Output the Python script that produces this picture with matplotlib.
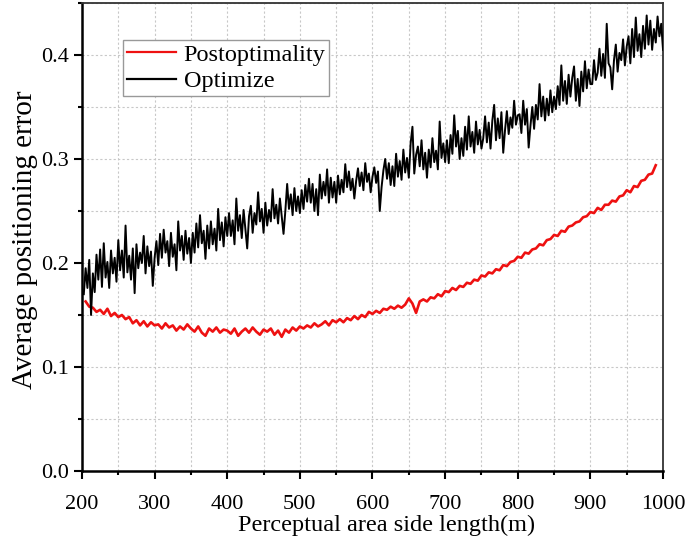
import numpy as np
import matplotlib
matplotlib.use("Agg")
from matplotlib import pyplot as plt
from matplotlib.ticker import MultipleLocator

plt.rcParams['font.family'] = ['Liberation Serif', 'DejaVu Serif']

# side length of the perceptual area (m)
x_opt = np.arange(202.5, 1000.1, 2.5)
x_post = np.arange(205, 991, 5)

# Optimize (black), one row per 50 m
optimize = [
    0.170, 0.195, 0.176, 0.203, 0.150, 0.190, 0.172, 0.208, 0.184, 0.213,
    0.177, 0.219, 0.186, 0.201, 0.176, 0.212, 0.190, 0.205, 0.182, 0.222,
    0.193, 0.212, 0.186, 0.236, 0.191, 0.207, 0.184, 0.214, 0.171, 0.218,
    0.195, 0.210, 0.200, 0.226, 0.190, 0.216, 0.197, 0.211, 0.178, 0.205,
    0.221, 0.198, 0.228, 0.205, 0.232, 0.210, 0.221, 0.197, 0.229, 0.206,
    0.218, 0.193, 0.240, 0.212, 0.226, 0.203, 0.231, 0.209, 0.224, 0.200,
    0.229, 0.210, 0.238, 0.215, 0.246, 0.219, 0.231, 0.204, 0.236, 0.214,
    0.240, 0.218, 0.233, 0.212, 0.252, 0.222, 0.239, 0.216, 0.244, 0.226,
    0.248, 0.226, 0.241, 0.218, 0.262, 0.231, 0.246, 0.224, 0.251, 0.232,
    0.214, 0.245, 0.255, 0.229, 0.248, 0.237, 0.268, 0.240, 0.252, 0.229,
    0.258, 0.236, 0.251, 0.240, 0.271, 0.243, 0.256, 0.238, 0.262, 0.245,
    0.228, 0.250, 0.276, 0.252, 0.266, 0.246, 0.272, 0.250, 0.264, 0.248,
    0.270, 0.252, 0.275, 0.259, 0.281, 0.258, 0.276, 0.250, 0.271, 0.246,
    0.285, 0.262, 0.278, 0.265, 0.290, 0.258, 0.282, 0.263, 0.278, 0.258,
    0.284, 0.266, 0.280, 0.268, 0.295, 0.273, 0.288, 0.270, 0.281, 0.262,
    0.279, 0.291, 0.274, 0.287, 0.270, 0.296, 0.278, 0.286, 0.268, 0.283,
    0.292, 0.277, 0.288, 0.250, 0.273, 0.289, 0.300, 0.281, 0.296, 0.275,
    0.293, 0.274, 0.305, 0.283, 0.298, 0.280, 0.309, 0.287, 0.301, 0.282,
    0.315, 0.331, 0.286, 0.304, 0.312, 0.293, 0.318, 0.290, 0.306, 0.282,
    0.309, 0.292, 0.320, 0.297, 0.308, 0.290, 0.336, 0.301, 0.315, 0.297,
    0.318, 0.296, 0.323, 0.305, 0.342, 0.312, 0.327, 0.300, 0.320, 0.303,
    0.331, 0.309, 0.341, 0.312, 0.326, 0.306, 0.336, 0.314, 0.328, 0.310,
    0.320, 0.341, 0.316, 0.335, 0.310, 0.337, 0.352, 0.318, 0.339, 0.320,
    0.345, 0.306, 0.328, 0.346, 0.324, 0.340, 0.330, 0.356, 0.333, 0.342,
    0.343, 0.325, 0.356, 0.333, 0.348, 0.311, 0.332, 0.350, 0.329, 0.352,
    0.338, 0.372, 0.341, 0.360, 0.337, 0.358, 0.342, 0.366, 0.345, 0.360,
    0.348, 0.370, 0.352, 0.390, 0.356, 0.375, 0.353, 0.381, 0.360, 0.378,
    0.389, 0.356, 0.377, 0.351, 0.384, 0.365, 0.394, 0.368, 0.386, 0.372,
    0.372, 0.395, 0.376, 0.383, 0.406, 0.380, 0.401, 0.378, 0.430, 0.392,
    0.388, 0.367, 0.395, 0.410, 0.384, 0.402, 0.395, 0.415, 0.390, 0.408,
    0.418, 0.392, 0.425, 0.398, 0.436, 0.404, 0.420, 0.398, 0.428, 0.406,
    0.438, 0.410, 0.433, 0.405, 0.425, 0.412, 0.437, 0.418, 0.430, 0.405,
]

# Postoptimality (red)
postopt = [
    0.163, 0.158, 0.157, 0.153, 0.155, 0.151, 0.156, 0.149, 0.152, 0.148,
    0.150, 0.146, 0.148, 0.142, 0.145, 0.140, 0.144, 0.139, 0.143, 0.140,
    0.141, 0.137, 0.142, 0.138, 0.140, 0.135, 0.139, 0.136, 0.141, 0.137,
    0.134, 0.139, 0.133, 0.130, 0.137, 0.134, 0.138, 0.133, 0.136, 0.135,
    0.132, 0.137, 0.130, 0.134, 0.137, 0.133, 0.138, 0.134, 0.131, 0.136,
    0.134, 0.137, 0.131, 0.135, 0.129, 0.136, 0.133, 0.138, 0.135, 0.139,
    0.137, 0.140, 0.138, 0.142, 0.139, 0.141, 0.144, 0.140, 0.145, 0.143,
    0.146, 0.143, 0.147, 0.145, 0.149, 0.146, 0.150, 0.148, 0.153, 0.151,
    0.154, 0.152, 0.156, 0.155, 0.158, 0.156, 0.159, 0.157, 0.160, 0.166,
    0.161, 0.152, 0.163, 0.165, 0.163, 0.167, 0.166, 0.170, 0.168, 0.173,
    0.172, 0.176, 0.174, 0.178, 0.177, 0.181, 0.180, 0.184, 0.183, 0.188,
    0.187, 0.191, 0.190, 0.194, 0.193, 0.198, 0.197, 0.201, 0.202, 0.206,
    0.205, 0.210, 0.209, 0.213, 0.214, 0.218, 0.217, 0.222, 0.223, 0.227,
    0.226, 0.231, 0.230, 0.235, 0.236, 0.239, 0.240, 0.244, 0.245, 0.249,
    0.248, 0.253, 0.251, 0.256, 0.256, 0.260, 0.259, 0.264, 0.265, 0.270,
    0.268, 0.274, 0.273, 0.279, 0.280, 0.285, 0.286, 0.294,
]

fig = plt.figure(figsize=(6.86, 5.44), dpi=100)
ax = fig.add_axes([0.1195, 0.1342, 0.847, 0.8603])

ax.plot(x_post, postopt, color='#ee1111', lw=1.9, label='Postoptimality', zorder=3)
ax.plot(x_opt, optimize, color='black', lw=1.4, label='Optimize', zorder=4)

ax.set_xlim(200, 1000)
ax.set_ylim(0, 0.45)
ax.xaxis.set_major_locator(MultipleLocator(100))
ax.xaxis.set_minor_locator(MultipleLocator(50))
ax.yaxis.set_major_locator(MultipleLocator(0.1))
ax.yaxis.set_minor_locator(MultipleLocator(0.05))
ax.yaxis.set_major_formatter(plt.FuncFormatter(lambda v, p: f'{v:.1f}'))

ax.grid(True, which='both', color='#c8c8c8', lw=0.8, ls=(0, (2, 2)), zorder=0)
ax.set_axisbelow(True)

ax.tick_params(which='major', direction='out', length=5.5, width=1.5,
               labelsize=16, top=False, right=False)
ax.tick_params(which='minor', direction='out', length=3, width=1.5,
               top=False, right=False)
ax.tick_params(axis='x', which='major', pad=12)
ax.tick_params(axis='y', which='major', pad=4)

for s in ['left', 'bottom']:
    ax.spines[s].set_linewidth(1.8)
for s in ['top', 'right']:
    ax.spines[s].set_linewidth(1.3)
    ax.spines[s].set_color('#333333')

ax.set_xlabel('Perceptual area side length(m)', fontsize=17.5)
ax.set_ylabel('Average positioning error', fontsize=21)
ax.xaxis.set_label_coords(0.525, -0.093)
ax.yaxis.set_label_coords(-0.076, 0.495)

leg = ax.legend(loc='upper left', bbox_to_anchor=(0.0706, 0.921),
                borderaxespad=0, fontsize=17.5, fancybox=False, framealpha=1,
                edgecolor='#999999', handlelength=2.05, handletextpad=0.3,
                labelspacing=0.2, borderpad=0.15)
leg.get_frame().set_linewidth(1.0)
for line in leg.get_lines():
    line.set_linewidth(1.6)

fig.savefig('out.png', dpi=100)
